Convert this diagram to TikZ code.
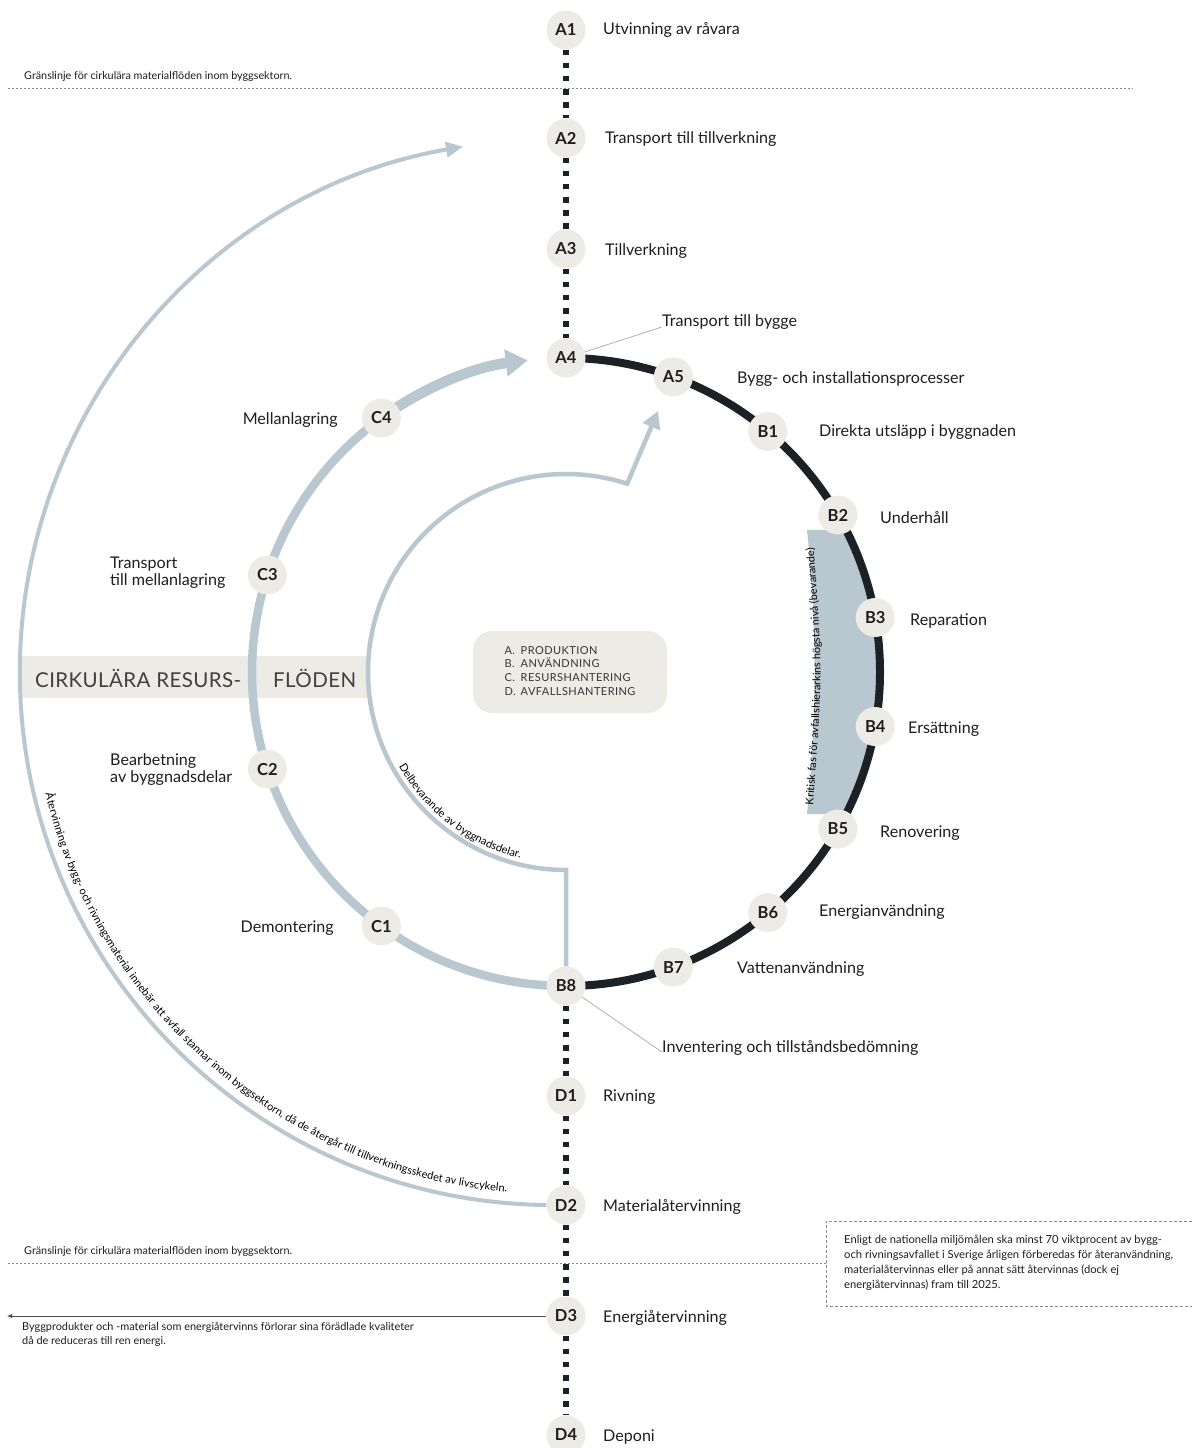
\documentclass[tikz,border=0pt]{standalone}
\usepackage{fontspec}
\setmainfont{Lato}
\usetikzlibrary{arrows.meta,decorations.text,backgrounds,calc}
\definecolor{flow}{HTML}{B9C7D0}
\definecolor{ringc}{HTML}{1C2125}
\definecolor{nodefill}{HTML}{ECEBE6}
\definecolor{txt}{HTML}{1E1E1E}
\definecolor{lead}{HTML}{A8A8A8}
\definecolor{bline}{HTML}{8A8A8A}
\begin{document}
\begin{tikzpicture}[x=1pt,y=1pt,
  stage/.style={circle, fill=nodefill, minimum size=39pt, inner sep=0pt, text=txt, font=\fontsize{16.5}{17}\selectfont\bfseries},
  lbl/.style={anchor=west, inner sep=0pt, yshift=-1.5pt, text=txt, font=\fontsize{16.1}{16.5}\selectfont},
  lblr/.style={lbl, anchor=east},
  lbl2/.style={lbl, align=left},
  dotline/.style={draw=ringc, line width=5.5pt, dash pattern=on 5.5pt off 7.6pt},
  ringline/.style={draw=ringc, line width=8pt},
  cflow/.style={draw=flow, line width=8.5pt},
  cflowthick/.style={draw=flow, line width=10.5pt, -{Triangle[length=22pt,width=26pt]}},
  thinflow/.style={draw=flow, line width=4.2pt},
  leader/.style={draw=lead, line width=0.7pt},
  boundary/.style={draw=bline, line width=0.8pt, dash pattern=on 2pt off 2pt},
  framedash/.style={draw=bline, line width=0.8pt, dash pattern=on 3pt off 2pt},
  smalltxt/.style={inner sep=0pt, text=txt, font=\fontsize{10.8}{14}\selectfont, align=left},
]
\useasboundingbox (0,0) rectangle (1192,-1448);

% ---- stage nodes ----
\node[stage] (A1) at (566,-30) {A1};
\node[stage] (A2) at (566,-138) {A2};
\node[stage] (A3) at (566,-249) {A3};
\begin{scope}[shift={(566,-672)}]
\node[stage] (A4) at (90:314pt) {A4};
\node[stage] (A5) at (70:314pt) {A5};
\node[stage] (B1) at (50:314pt) {B1};
\node[stage] (B2) at (30:314pt) {B2};
\node[stage] (B3) at (10:314pt) {B3};
\node[stage] (B4) at (-10:314pt) {B4};
\node[stage] (B5) at (-30:314pt) {B5};
\node[stage] (B6) at (-50:314pt) {B6};
\node[stage] (B7) at (-70:314pt) {B7};
\node[stage] (B8) at (-90:314pt) {B8};
\node[stage] (C1) at (234:314pt) {C1};
\node[stage] (C2) at (198:314pt) {C2};
\node[stage] (C3) at (162:314pt) {C3};
\node[stage] (C4) at (126:314pt) {C4};
\coordinate (innerbot) at (-90:198pt);
\end{scope}
\node[stage] (D1) at (566,-1096) {D1};
\node[stage] (D2) at (566,-1205) {D2};
\node[stage] (D3) at (566,-1316) {D3};
\node[stage] (D4) at (566,-1435) {D4};
\coordinate (innertip) at (658,-411);

% ---- labels ----
\node[lbl] (tA1) at (603,-28) {Utvinning av råvara};
\node[lbl] (tA2) at (605,-138) {Transport till tillverkning};
\node[lbl] (tA3) at (605,-250) {Tillverkning};
\node[lbl] (tA4) at (662,-321) {Transport till bygge};
\node[lbl] (tA5) at (737,-378) {Bygg- och installationsprocesser};
\node[lbl] (tB1) at (819,-431) {Direkta utsläpp i byggnaden};
\node[lbl] (tB2) at (880,-516) {Underhåll};
\node[lbl] (tB3) at (910,-619) {Reparation};
\node[lbl] (tB4) at (908,-728) {Ersättning};
\node[lbl] (tB5) at (880,-832) {Renovering};
\node[lbl] (tB6) at (819,-911) {Energianvändning};
\node[lbl] (tB7) at (737,-968) {Vattenanvändning};
\node[lbl] (tB8) at (662,-1046) {Inventering och tillståndsbedömning};
\node[lbl] (tD1) at (603,-1096) {Rivning};
\node[lbl] (tD2) at (603,-1205) {Materialåtervinning};
\node[lbl] (tD3) at (603,-1316) {Energiåtervinning};
\node[lbl] (tD4) at (603,-1435) {Deponi};
\node[lblr] (tC4) at (338,-419) {Mellanlagring};
\node[lbl2] (tC3) at (110,-571) {Transport\\till mellanlagring};
\node[lbl2] (tC2) at (110,-768) {Bearbetning\\av byggnadsdelar};
\node[lblr] (tC1) at (334,-927) {Demontering};

\draw[leader] (A4) -- (tA4.base west);
\draw[leader] (B8) -- (tB8.base west);

% ---- band title ----
\node[anchor=west, inner sep=0pt, text=txt!85, font=\fontsize{20.5}{21}\selectfont\addfontfeatures{LetterSpace=2}] (cr1) at (35,-678) {CIRKULÄRA RESURS-};
\node[anchor=west, inner sep=0pt, text=txt!85, font=\fontsize{20.5}{21}\selectfont\addfontfeatures{LetterSpace=2}] (cr2) at (273,-678) {FLÖDEN};

% ---- legend ----
\node[fill=nodefill, rounded corners=19pt, minimum width=194pt, minimum height=82pt, inner sep=0pt, text=txt!90,
      font=\fontsize{11}{13.7}\selectfont\addfontfeatures{LetterSpace=4}] (legend) at (570,-672)
  {\begin{tabular}{@{}l@{\hspace{5pt}}l@{}}A. & PRODUKTION\\ B. & ANVÄNDNING\\ C. & RESURSHANTERING\\ D. & AVFALLSHANTERING\end{tabular}};

% ---- boundary lines and notes ----
\coordinate (bl1a) at (8,-88);
\coordinate (bl1b) at (1133,-88);
\coordinate (bl2a) at (8,-1263);
\coordinate (bl2b) at (826,-1263);
\draw[boundary] (bl1a) -- (bl1b);
\draw[boundary] (bl2a) -- (bl2b);
\node[smalltxt, anchor=west] (g1) at (24,-77) {Gränslinje för cirkulära materialflöden inom byggsektorn.};
\node[smalltxt, anchor=west] (g2) at (24,-1251) {Gränslinje för cirkulära materialflöden inom byggsektorn.};
\draw[framedash] (1192,-1221) -- (826,-1221) -- (826,-1306) -- (1192,-1306);
\node[smalltxt, anchor=north west, font=\fontsize{11.2}{15}\selectfont] (note) at (844,-1235)
  {Enligt de nationella miljömålen ska minst 70 viktprocent av bygg-\\
   och rivningsavfallet i Sverige årligen förberedas för återanvändning,\\
   materialåtervinnas eller på annat sätt återvinnas (dock ej\\
   energiåtervinnas) fram till 2025.};
\coordinate (energyout) at (7,-1316);
\draw[draw=black!70, line width=1pt, -{Latex[length=5pt,width=4.5pt]}] (D3) -- (energyout);
\node[smalltxt, anchor=north west, font=\fontsize{10.9}{14}\selectfont] (energytxt) at (22,-1322)
  {Byggprodukter och -material som energiåtervinns förlorar sina förädlade kvaliteter\\
   då de reduceras till ren energi.};

% ---- text along paths ----
\path[decorate, decoration={text along path, text align=left,
   text={|\fontsize{10.9}{11}\selectfont|Återvinning av bygg- och rivningsmaterial innebär att avfall stannar inom byggsektorn, då de återgår till tillverkningsskedet av livscykeln.}}]
  ($(553,-672)+(193.5:522pt)$) arc[start angle=193.5, end angle=280, radius=522pt];
\path[decorate, decoration={text along path, text align=left,
   text={|\fontsize{11}{11}\selectfont|Delbevarande av byggnadsdelar.}}]
  ($(566,-672)+(209.5:192pt)$) arc[start angle=209.5, end angle=280, radius=192pt];
\path[decorate, decoration={text along path, text align=left,
   text={|\fontsize{10.8}{11}\selectfont|Kritisk fas för avfallshierarkins högsta nivå (bevarande)}}]
  (813,-805) .. controls (823,-672) .. (813,-539) -- (810,-490);

% ---- connectors (background) ----
\begin{scope}[on background layer]
\fill[white] (0,0) rectangle (1192,-1448);
\fill[nodefill] (22,-656) rectangle (367,-698);
\fill[flow] (807,-530) .. controls (817,-625) and (817,-719) .. (807,-814)
   -- ($(566,-672)+(-27:314pt)$) arc[start angle=-27, end angle=27, radius=314pt] -- cycle;
\draw[ringline] (A4.center) arc[start angle=90, end angle=-90, radius=314pt];
\draw[dotline] (A1) -- (A2);
\draw[dotline] (A2) -- (A3);
\draw[dotline] (A3) -- (A4);
\draw[dotline] (B8) -- (D1);
\draw[dotline] (D1) -- (D2);
\draw[dotline] (D2) -- (D3);
\draw[dotline] (D3) -- (D4);
\draw[cflow] (B8.center) arc[start angle=270, end angle=126, radius=314pt];
\draw[cflowthick] (C4.center) arc[start angle=126, end angle=97, radius=314pt];
\draw[thinflow, line width=4.5pt, -{Triangle[length=17pt,width=18pt]}] (B8) -- (innerbot)
   arc[start angle=270, end angle=72, radius=198pt] -- (innertip);
\draw[thinflow, line width=4pt, -{Triangle[length=17pt,width=15pt]}] (D2.west)
   arc[start angle=269.3, end angle=99.7, radius=533pt];
\end{scope}
\end{tikzpicture}
\end{document}
